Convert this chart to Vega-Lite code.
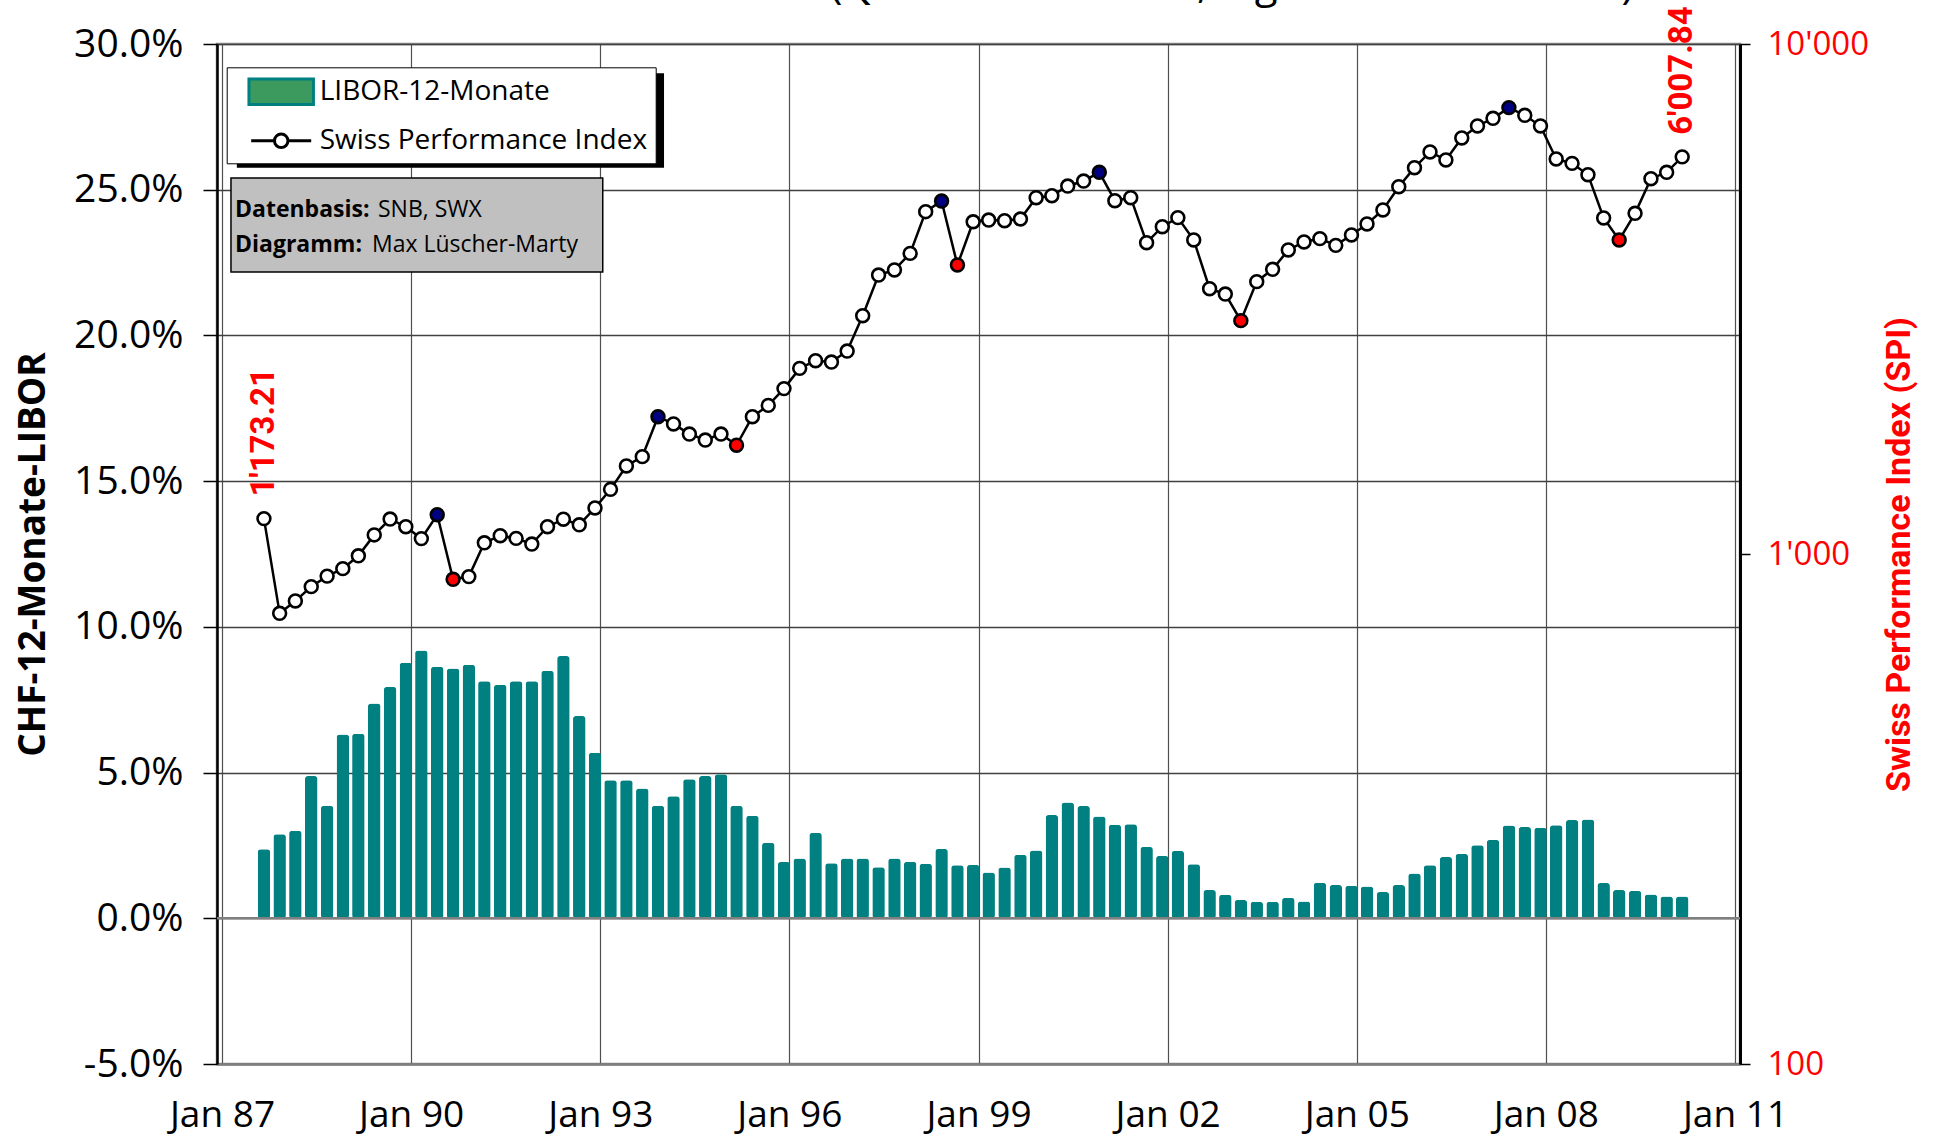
{
  "$schema": "https://vega.github.io/schema/vega-lite/v6.json",
  "width": 1523,
  "height": 1020,
  "autosize": {"type": "none"},
  "padding": {"left": 217, "top": 44, "right": 194, "bottom": 72},
  "background": "white",
  "config": {
    "font": "Open Sans",
    "view": {"stroke": "#8c8c8c", "strokeWidth": 2.5},
    "locale": {"number": {"decimal": ".", "thousands": "'", "grouping": [3], "currency": ["", ""], "minus": "-"}}
  },
  "title": {
    "text": "Geldmarkt und Aktienmarkt (Quartalsendwerte, logarithmische Skala)",
    "orient": "top", "anchor": "end", "frame": "group", "offset": -34, "dx": -106,
    "baseline": "alphabetic", "font": "Open Sans", "fontSize": 42, "fontWeight": "normal", "color": "black"
  },
  "datasets": {
    "q": [
      {"d": "1987-09-01", "libor": 2.37, "spi": 1173.21, "c": "n"},
      {"d": "1987-12-01", "libor": 2.88, "spi": 765, "c": "n"},
      {"d": "1988-03-01", "libor": 3.00, "spi": 809, "c": "n"},
      {"d": "1988-06-01", "libor": 4.88, "spi": 863, "c": "n"},
      {"d": "1988-09-01", "libor": 3.86, "spi": 905, "c": "n"},
      {"d": "1988-12-01", "libor": 6.31, "spi": 936, "c": "n"},
      {"d": "1989-03-01", "libor": 6.33, "spi": 992, "c": "n"},
      {"d": "1989-06-01", "libor": 7.37, "spi": 1090, "c": "n"},
      {"d": "1989-09-01", "libor": 7.94, "spi": 1171, "c": "n"},
      {"d": "1989-12-01", "libor": 8.77, "spi": 1131, "c": "n"},
      {"d": "1990-03-01", "libor": 9.19, "spi": 1072, "c": "n"},
      {"d": "1990-06-01", "libor": 8.63, "spi": 1194, "c": "h"},
      {"d": "1990-09-01", "libor": 8.57, "spi": 892, "c": "t"},
      {"d": "1990-12-01", "libor": 8.70, "spi": 903, "c": "n"},
      {"d": "1991-03-01", "libor": 8.13, "spi": 1052, "c": "n"},
      {"d": "1991-06-01", "libor": 8.01, "spi": 1086, "c": "n"},
      {"d": "1991-09-01", "libor": 8.13, "spi": 1073, "c": "n"},
      {"d": "1991-12-01", "libor": 8.13, "spi": 1046, "c": "n"},
      {"d": "1992-03-01", "libor": 8.49, "spi": 1131, "c": "n"},
      {"d": "1992-06-01", "libor": 9.00, "spi": 1170, "c": "n"},
      {"d": "1992-09-01", "libor": 6.94, "spi": 1141, "c": "n"},
      {"d": "1992-12-01", "libor": 5.68, "spi": 1231, "c": "n"},
      {"d": "1993-03-01", "libor": 4.74, "spi": 1339, "c": "n"},
      {"d": "1993-06-01", "libor": 4.74, "spi": 1488, "c": "n"},
      {"d": "1993-09-01", "libor": 4.45, "spi": 1552, "c": "n"},
      {"d": "1993-12-01", "libor": 3.86, "spi": 1859, "c": "h"},
      {"d": "1994-03-01", "libor": 4.19, "spi": 1799, "c": "n"},
      {"d": "1994-06-01", "libor": 4.77, "spi": 1719, "c": "n"},
      {"d": "1994-09-01", "libor": 4.88, "spi": 1673, "c": "n"},
      {"d": "1994-12-01", "libor": 4.94, "spi": 1719, "c": "n"},
      {"d": "1995-03-01", "libor": 3.86, "spi": 1634, "c": "t"},
      {"d": "1995-06-01", "libor": 3.52, "spi": 1859, "c": "n"},
      {"d": "1995-09-01", "libor": 2.59, "spi": 1956, "c": "n"},
      {"d": "1995-12-01", "libor": 1.93, "spi": 2110, "c": "n"},
      {"d": "1996-03-01", "libor": 2.05, "spi": 2312, "c": "n"},
      {"d": "1996-06-01", "libor": 2.93, "spi": 2393, "c": "n"},
      {"d": "1996-09-01", "libor": 1.89, "spi": 2379, "c": "n"},
      {"d": "1996-12-01", "libor": 2.05, "spi": 2500, "c": "n"},
      {"d": "1997-03-01", "libor": 2.05, "spi": 2933, "c": "n"},
      {"d": "1997-06-01", "libor": 1.75, "spi": 3524, "c": "n"},
      {"d": "1997-09-01", "libor": 2.05, "spi": 3605, "c": "n"},
      {"d": "1997-12-01", "libor": 1.94, "spi": 3886, "c": "n"},
      {"d": "1998-03-01", "libor": 1.87, "spi": 4691, "c": "n"},
      {"d": "1998-06-01", "libor": 2.38, "spi": 4922, "c": "h"},
      {"d": "1998-09-01", "libor": 1.82, "spi": 3687, "c": "t"},
      {"d": "1998-12-01", "libor": 1.83, "spi": 4482, "c": "n"},
      {"d": "1999-03-01", "libor": 1.57, "spi": 4517, "c": "n"},
      {"d": "1999-06-01", "libor": 1.74, "spi": 4504, "c": "n"},
      {"d": "1999-09-01", "libor": 2.18, "spi": 4538, "c": "n"},
      {"d": "1999-12-01", "libor": 2.33, "spi": 4996, "c": "n"},
      {"d": "2000-03-01", "libor": 3.54, "spi": 5041, "c": "n"},
      {"d": "2000-06-01", "libor": 3.97, "spi": 5267, "c": "n"},
      {"d": "2000-09-01", "libor": 3.85, "spi": 5387, "c": "n"},
      {"d": "2000-12-01", "libor": 3.49, "spi": 5603, "c": "h"},
      {"d": "2001-03-01", "libor": 3.21, "spi": 4929, "c": "n"},
      {"d": "2001-06-01", "libor": 3.23, "spi": 4996, "c": "n"},
      {"d": "2001-09-01", "libor": 2.45, "spi": 4078, "c": "n"},
      {"d": "2001-12-01", "libor": 2.14, "spi": 4383, "c": "n"},
      {"d": "2002-03-01", "libor": 2.31, "spi": 4566, "c": "n"},
      {"d": "2002-06-01", "libor": 1.85, "spi": 4128, "c": "n"},
      {"d": "2002-09-01", "libor": 0.97, "spi": 3313, "c": "n"},
      {"d": "2002-12-01", "libor": 0.81, "spi": 3234, "c": "n"},
      {"d": "2003-03-01", "libor": 0.63, "spi": 2868, "c": "t"},
      {"d": "2003-06-01", "libor": 0.57, "spi": 3420, "c": "n"},
      {"d": "2003-09-01", "libor": 0.57, "spi": 3616, "c": "n"},
      {"d": "2003-12-01", "libor": 0.70, "spi": 3946, "c": "n"},
      {"d": "2004-03-01", "libor": 0.58, "spi": 4091, "c": "n"},
      {"d": "2004-06-01", "libor": 1.22, "spi": 4153, "c": "n"},
      {"d": "2004-09-01", "libor": 1.14, "spi": 4029, "c": "n"},
      {"d": "2004-12-01", "libor": 1.12, "spi": 4223, "c": "n"},
      {"d": "2005-03-01", "libor": 1.09, "spi": 4438, "c": "n"},
      {"d": "2005-06-01", "libor": 0.90, "spi": 4727, "c": "n"},
      {"d": "2005-09-01", "libor": 1.14, "spi": 5251, "c": "n"},
      {"d": "2005-12-01", "libor": 1.54, "spi": 5721, "c": "n"},
      {"d": "2006-03-01", "libor": 1.82, "spi": 6142, "c": "n"},
      {"d": "2006-06-01", "libor": 2.10, "spi": 5924, "c": "n"},
      {"d": "2006-09-01", "libor": 2.21, "spi": 6543, "c": "n"},
      {"d": "2006-12-01", "libor": 2.51, "spi": 6906, "c": "n"},
      {"d": "2007-03-01", "libor": 2.69, "spi": 7150, "c": "n"},
      {"d": "2007-06-01", "libor": 3.18, "spi": 7504, "c": "h"},
      {"d": "2007-09-01", "libor": 3.13, "spi": 7248, "c": "n"},
      {"d": "2007-12-01", "libor": 3.11, "spi": 6906, "c": "n"},
      {"d": "2008-03-01", "libor": 3.19, "spi": 5951, "c": "n"},
      {"d": "2008-06-01", "libor": 3.37, "spi": 5834, "c": "n"},
      {"d": "2008-09-01", "libor": 3.39, "spi": 5543, "c": "n"},
      {"d": "2008-12-01", "libor": 1.21, "spi": 4559, "c": "n"},
      {"d": "2009-03-01", "libor": 0.97, "spi": 4128, "c": "t"},
      {"d": "2009-06-01", "libor": 0.94, "spi": 4656, "c": "n"},
      {"d": "2009-09-01", "libor": 0.82, "spi": 5444, "c": "n"},
      {"d": "2009-12-01", "libor": 0.75, "spi": 5603, "c": "n"},
      {"d": "2010-03-01", "libor": 0.75, "spi": 6007.84, "c": "n"}
    ],
    "leg": [
      {"s": "LIBOR-12-Monate", "d": "1980-01-01"},
      {"s": "Swiss Performance Index", "d": "1980-01-01"}
    ],
    "one": [{}]
  },
  "layer": [
    {
      "layer": [
        {
          "data": {"name": "one"},
          "mark": {"type": "rect", "color": "black"},
          "encoding": {
            "x": {"datum": {"year": 1987, "month": 3, "date": 28, "utc": true}, "type": "temporal", "scale": {"type": "utc", "domain": [{"year": 1987, "month": 1, "date": 1, "utc": true}, {"year": 2011, "month": 1, "date": 1, "utc": true}]}},
            "x2": {"datum": {"year": 1994, "month": 1, "date": 5, "utc": true}},
            "y": {"datum": 29.0, "type": "quantitative"},
            "y2": {"datum": 25.75}
          }
        },
        {
          "data": {"name": "q"},
          "mark": {"type": "bar", "color": "#008080", "width": 12.5, "cornerRadius": 3},
          "encoding": {
            "x": {
              "field": "d", "type": "temporal", "title": null,
              "scale": {"type": "utc", "domain": [{"year": 1987, "month": 1, "date": 1, "utc": true}, {"year": 2011, "month": 1, "date": 1, "utc": true}]},
              "axis": {
                "values": [
                  {"year": 1987, "month": 1, "date": 1, "utc": true},
                  {"year": 1990, "month": 1, "date": 1, "utc": true},
                  {"year": 1993, "month": 1, "date": 1, "utc": true},
                  {"year": 1996, "month": 1, "date": 1, "utc": true},
                  {"year": 1999, "month": 1, "date": 1, "utc": true},
                  {"year": 2002, "month": 1, "date": 1, "utc": true},
                  {"year": 2005, "month": 1, "date": 1, "utc": true},
                  {"year": 2008, "month": 1, "date": 1, "utc": true},
                  {"year": 2011, "month": 1, "date": 1, "utc": true}
                ],
                "labelExpr": "'Jan ' + utcFormat(datum.value, '%y')",
                "orient": "bottom",
                "ticks": false,
                "domainColor": "#808080", "domainWidth": 2.5,
                "grid": true, "gridColor": "#505050", "gridWidth": 1.2,
                "labelFont": "Open Sans", "labelFontSize": 37, "labelColor": "black",
                "labelPadding": 33, "labelFlush": false, "labelOverlap": false
              }
            },
            "y": {
              "field": "libor", "type": "quantitative",
              "scale": {"domain": [-5, 30], "nice": false, "zero": false},
              "axis": {
                "orient": "left",
                "title": "CHF-12-Monate-LIBOR",
                "values": [-5, 0, 5, 10, 15, 20, 25, 30],
                "labelExpr": "format(datum.value, '.1f') + '%'",
                "grid": true, "gridColor": "#404040", "gridWidth": 1.4,
                "domainColor": "black", "domainWidth": 2.5,
                "tickColor": "black", "tickSize": 14, "tickWidth": 1.5,
                "labelFont": "Open Sans", "labelFontSize": 39, "labelColor": "black", "labelPadding": 20,
                "titleFont": "Open Sans", "titleFontSize": 37, "titleFontWeight": "bold", "titleColor": "black", "titlePadding": 21
              }
            }
          }
        },
        {
          "data": {"name": "one"},
          "mark": {"type": "rule", "color": "#808080", "strokeWidth": 2.5},
          "encoding": {"y": {"datum": 0, "type": "quantitative"}}
        },
        {
          "data": {"name": "one"},
          "mark": {"type": "rect", "fill": "#c0c0c0", "stroke": "black", "strokeWidth": 1.5},
          "encoding": {
            "x": {"datum": {"year": 1987, "month": 2, "date": 22, "utc": true}, "type": "temporal"},
            "x2": {"datum": {"year": 1993, "month": 1, "date": 15, "utc": true}},
            "y": {"datum": 25.4, "type": "quantitative"},
            "y2": {"datum": 22.18}
          }
        },
        {
          "data": {"name": "one"},
          "mark": {"type": "text", "text": "Datenbasis:", "font": "Open Sans", "fontWeight": "bold", "fontSize": 23, "color": "black", "align": "left", "baseline": "alphabetic", "dx": 4},
          "encoding": {
            "x": {"datum": {"year": 1987, "month": 2, "date": 22, "utc": true}, "type": "temporal"},
            "y": {"datum": 24.07, "type": "quantitative"}
          }
        },
        {
          "data": {"name": "one"},
          "mark": {"type": "text", "text": "SNB, SWX", "font": "Open Sans", "fontSize": 23, "color": "black", "align": "left", "baseline": "alphabetic", "dx": 147},
          "encoding": {
            "x": {"datum": {"year": 1987, "month": 2, "date": 22, "utc": true}, "type": "temporal"},
            "y": {"datum": 24.07, "type": "quantitative"}
          }
        },
        {
          "data": {"name": "one"},
          "mark": {"type": "text", "text": "Diagramm:", "font": "Open Sans", "fontWeight": "bold", "fontSize": 23, "color": "black", "align": "left", "baseline": "alphabetic", "dx": 4},
          "encoding": {
            "x": {"datum": {"year": 1987, "month": 2, "date": 22, "utc": true}, "type": "temporal"},
            "y": {"datum": 22.87, "type": "quantitative"}
          }
        },
        {
          "data": {"name": "one"},
          "mark": {"type": "text", "text": "Max Lüscher-Marty", "font": "Open Sans", "fontSize": 23, "color": "black", "align": "left", "baseline": "alphabetic", "dx": 141},
          "encoding": {
            "x": {"datum": {"year": 1987, "month": 2, "date": 22, "utc": true}, "type": "temporal"},
            "y": {"datum": 22.87, "type": "quantitative"}
          }
        }
      ]
    },
    {
      "data": {"name": "q"},
      "layer": [
        {
          "mark": {"type": "line", "color": "black", "strokeWidth": 2.5},
          "encoding": {
            "x": {"field": "d", "type": "temporal", "title": null, "scale": {"type": "utc", "domain": [{"year": 1987, "month": 1, "date": 1, "utc": true}, {"year": 2011, "month": 1, "date": 1, "utc": true}]}},
            "y": {
              "field": "spi", "type": "quantitative", "title": "Swiss Performance Index (SPI)",
              "scale": {"type": "log", "domain": [100, 10000], "nice": false},
              "axis": {
                "orient": "right",
                "values": [100, 1000, 10000],
                "format": ",",
                "grid": false,
                "domainColor": "black", "domainWidth": 3,
                "tickColor": "black", "tickSize": 10, "tickWidth": 1.5,
                "labelFont": "Open Sans", "labelFontSize": 33, "labelColor": "#ff0000", "labelPadding": 17,
                "titleFont": "Roboto", "titleFontSize": 34, "titleFontWeight": "bold", "titleColor": "#ff0000",
                "titleAngle": 270, "titlePadding": 48
              }
            }
          }
        },
        {
          "mark": {"type": "point", "shape": "circle", "filled": true, "size": 165, "stroke": "black", "strokeWidth": 2.6, "opacity": 1},
          "encoding": {
            "x": {"field": "d", "type": "temporal", "title": null, "scale": {"type": "utc", "domain": [{"year": 1987, "month": 1, "date": 1, "utc": true}, {"year": 2011, "month": 1, "date": 1, "utc": true}]}},
            "y": {"field": "spi", "type": "quantitative", "title": "Swiss Performance Index (SPI)", "scale": {"type": "log", "domain": [100, 10000], "nice": false}},
            "fill": {"condition": [{"test": "datum.c == 'h'", "value": "#000080"}, {"test": "datum.c == 't'", "value": "#ff0000"}], "value": "#ffffff"}
          }
        },
        {
          "transform": [{"filter": "datum.spi == 1173.21 || datum.spi == 6007.84"}],
          "mark": {"type": "text", "angle": 270, "align": "left", "baseline": "middle", "dx": 22, "font": "Roboto", "fontWeight": "bold", "fontSize": 33, "color": "#ff0000"},
          "encoding": {
            "x": {"field": "d", "type": "temporal", "title": null, "scale": {"type": "utc", "domain": [{"year": 1987, "month": 1, "date": 1, "utc": true}, {"year": 2011, "month": 1, "date": 1, "utc": true}]}},
            "y": {"field": "spi", "type": "quantitative", "title": "Swiss Performance Index (SPI)", "scale": {"type": "log", "domain": [100, 10000], "nice": false}},
            "text": {"field": "spi", "type": "quantitative", "format": ",.2f"}
          }
        }
      ]
    },
    {
      "data": {"name": "leg"},
      "mark": {"type": "point", "clip": true, "filled": true, "opacity": 1, "size": 900, "strokeWidth": 3},
      "encoding": {
        "x": {"field": "d", "type": "temporal", "title": null, "scale": {"type": "utc", "domain": [{"year": 1987, "month": 1, "date": 1, "utc": true}, {"year": 2011, "month": 1, "date": 1, "utc": true}]}},
        "fill": {
          "field": "s", "type": "nominal", "title": null,
          "scale": {"domain": ["LIBOR-12-Monate", "Swiss Performance Index"], "range": ["#3c9a5f", "#ffffff"]},
          "legend": {
            "title": null, "orient": "none", "legendX": 9.7, "legendY": 23.3,
            "fillColor": "white", "strokeColor": "black", "padding": 8,
            "symbolOffset": 30, "labelOffset": 22, "rowPadding": 13,
            "symbolSize": 900, "symbolStrokeWidth": 3,
            "labelFont": "Open Sans", "labelFontSize": 28, "labelColor": "black", "labelLimit": 0
          }
        },
        "stroke": {
          "field": "s", "type": "nominal", "title": null,
          "scale": {"domain": ["LIBOR-12-Monate", "Swiss Performance Index"], "range": ["#008080", "#000000"]}
        },
        "shape": {
          "field": "s", "type": "nominal", "title": null,
          "scale": {"domain": ["LIBOR-12-Monate", "Swiss Performance Index"], "range": ["M-2.15,-0.85H2.15V0.85H-2.15Z", "M-2,0H-0.45M0.45,0H2M0.45,0A0.45,0.45,0,1,1,-0.45,0A0.45,0.45,0,1,1,0.45,0"]}
        }
      }
    }
  ],
  "resolve": {"scale": {"y": "independent"}}
}
